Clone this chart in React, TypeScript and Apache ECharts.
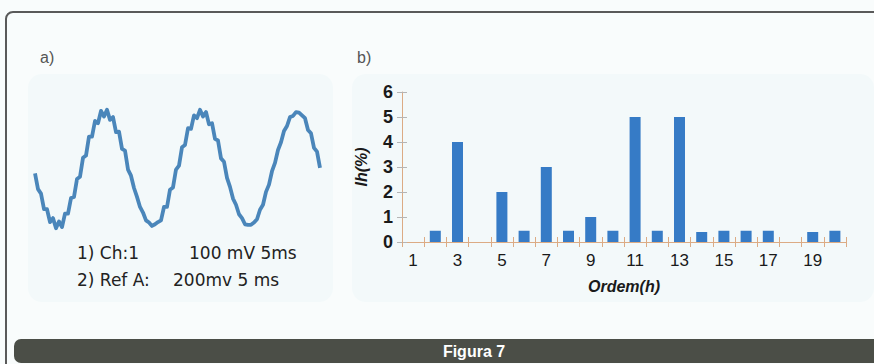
import React, { useEffect, useRef } from "react";
import * as echarts from "echarts";

// Panel a) oscilloscope trace, samples (arbitrary units, +-100 = peak)
const waveSamples: number[] = [
  -8, -36, -44, -72, -72, -95, -88, -106, -94, -104, -80, -80, -52, -50, -18, -14,
  20, 24, 58, 58, 86, 82, 104, 94, 106, 88, 93, 66, 67, 36, 33, -1,
  -12, -34, -50, -68, -78, -92, -96, -102, -99, -95, -92, -68, -68, -37, -33, -1,
  6, 39, 43, 73, 72, 96, 91, 106, 94, 102, 80, 82, 54, 51, 19, 13,
  -16, -32, -53, -64, -81, -88, -99, -100, -100, -96, -90, -73, -64, -41, -28, -4,
  11, 34, 48, 68, 77, 93, 95, 102, 101, 96, 91, 70, 64, 38, 31, 2,
];

// Panel b) harmonic spectrum
const orders: string[] = [
  "1", "2", "3", "4", "5", "6", "7", "8", "9", "10",
  "11", "12", "13", "14", "15", "16", "17", "18", "19", "20",
];
const ihPercent: number[] = [
  0, 0.45, 4, 0, 2, 0.45, 3, 0.45, 1, 0.45,
  5, 0.45, 5, 0.4, 0.45, 0.45, 0.45, 0, 0.4, 0.45,
];
const ihTicks = { min: 0, max: 6, interval: 1 };

const scopeLine1 = ["1) Ch:1", "100 mV 5ms"];
const scopeLine2 = ["2) Ref A:", "200mv 5 ms"];
const figureTitle = "Figura 7";

const TAN = "#dcab84";
const GREY_TICK = "#b5b5b5";
const FONT = "'Liberation Sans', Arial, sans-serif";
const SCOPE_FONT = "17px 'DejaVu Sans', sans-serif";

export default function App() {
  const ref = useRef<HTMLDivElement>(null);

  useEffect(() => {
    if (!ref.current) return;
    const chart = echarts.init(ref.current, undefined, { renderer: "svg" });

    const option: any = {
      animation: false,
      backgroundColor: "#f9fcfc",
      textStyle: { fontFamily: FONT },
      graphic: [
        // faint tinted panels
        { type: "rect", z: -10, shape: { x: 28, y: 74, width: 305, height: 228, r: 14 }, style: { fill: "#f3f9fa" } },
        { type: "rect", z: -10, shape: { x: 352, y: 74, width: 522, height: 228, r: 14 }, style: { fill: "#f3f9fa" } },
        // frame
        {
          type: "rect",
          shape: { x: 6, y: 12, width: 900, height: 420, r: 7 },
          style: { fill: "none", stroke: "#5a5a5a", lineWidth: 2 },
        },
        // bottom band
        {
          type: "rect",
          shape: { x: 14, y: 339, width: 880, height: 24, r: [7, 0, 0, 7] },
          style: { fill: "#4b4e47" },
        },
        {
          type: "text",
          x: 474,
          y: 351,
          style: {
            text: figureTitle,
            fill: "#ffffff",
            font: "bold 16px 'Liberation Sans Narrow', 'Liberation Sans', Arial, sans-serif",
            align: "center",
            verticalAlign: "middle",
          },
        },
        { type: "text", x: 40, y: 57, style: { text: "a)", fill: "#555", font: `16px ${FONT}`, verticalAlign: "middle" } },
        { type: "text", x: 357, y: 57, style: { text: "b)", fill: "#555", font: `16px ${FONT}`, verticalAlign: "middle" } },
        { type: "text", x: 77, y: 253, style: { text: scopeLine1[0], fill: "#222", font: SCOPE_FONT, verticalAlign: "middle" } },
        { type: "text", x: 189, y: 253, style: { text: scopeLine1[1], fill: "#222", font: SCOPE_FONT, verticalAlign: "middle" } },
        { type: "text", x: 77, y: 280, style: { text: scopeLine2[0], fill: "#222", font: SCOPE_FONT, verticalAlign: "middle" } },
        { type: "text", x: 173, y: 280, style: { text: scopeLine2[1], fill: "#222", font: SCOPE_FONT, verticalAlign: "middle" } },
      ],
      grid: [
        { left: 35, top: 102, width: 285, height: 134 },
        { left: 402, top: 92, width: 444, height: 150 },
      ],
      xAxis: [
        { gridIndex: 0, type: "category", boundaryGap: false, show: false },
        {
          gridIndex: 1,
          type: "category",
          data: orders,
          position: "bottom",
          axisLine: { show: true, lineStyle: { color: TAN, width: 1 } },
          axisTick: { show: true, interval: 0, length: 5, lineStyle: { color: TAN } },
          axisLabel: { interval: 1, color: "#1a1a1a", fontSize: 17, margin: 10 },
          name: "Ordem(h)",
          nameLocation: "middle",
          nameGap: 36,
          nameTextStyle: { fontSize: 16, fontWeight: "bold", fontStyle: "italic", color: "#1a1a1a" },
        },
        {
          gridIndex: 1,
          type: "category",
          data: orders,
          position: "bottom",
          axisLine: { show: false },
          axisTick: { show: true, inside: true, interval: 0, length: 5, lineStyle: { color: TAN } },
          axisLabel: { show: false },
        },
      ],
      yAxis: [
        { gridIndex: 0, type: "value", min: -120, max: 120, show: false },
        {
          gridIndex: 1,
          type: "value",
          position: "left",
          ...ihTicks,
          splitLine: { show: false },
          axisLine: { show: true, lineStyle: { color: TAN, width: 1 } },
          axisTick: { show: true, length: 5, lineStyle: { color: GREY_TICK } },
          axisLabel: { color: "#1a1a1a", fontSize: 18, fontWeight: "bold", margin: 9 },
          name: "Ih(%)",
          nameLocation: "middle",
          nameGap: 33,
          nameTextStyle: { fontSize: 16, fontWeight: "bold", fontStyle: "italic", color: "#1a1a1a" },
        },
        {
          gridIndex: 1,
          type: "value",
          position: "left",
          ...ihTicks,
          splitLine: { show: false },
          axisLine: { show: false },
          axisTick: { show: true, inside: true, length: 5, lineStyle: { color: GREY_TICK } },
          axisLabel: { show: false },
        },
      ],
      series: [
        {
          type: "line",
          xAxisIndex: 0,
          yAxisIndex: 0,
          data: waveSamples,
          showSymbol: false,
          clip: false,
          lineStyle: { color: "#4a86ba", width: 3.8, join: "round" },
        },
        {
          type: "bar",
          xAxisIndex: 1,
          yAxisIndex: 1,
          data: ihPercent,
          barWidth: 11,
          itemStyle: { color: "#367bc6" },
        },
      ],
    };

    chart.setOption(option);
    return () => chart.dispose();
  }, []);

  return (
    <div
      ref={ref}
      style={{ position: "fixed", left: 0, top: 0, width: 874, height: 364 }}
    />
  );
}
